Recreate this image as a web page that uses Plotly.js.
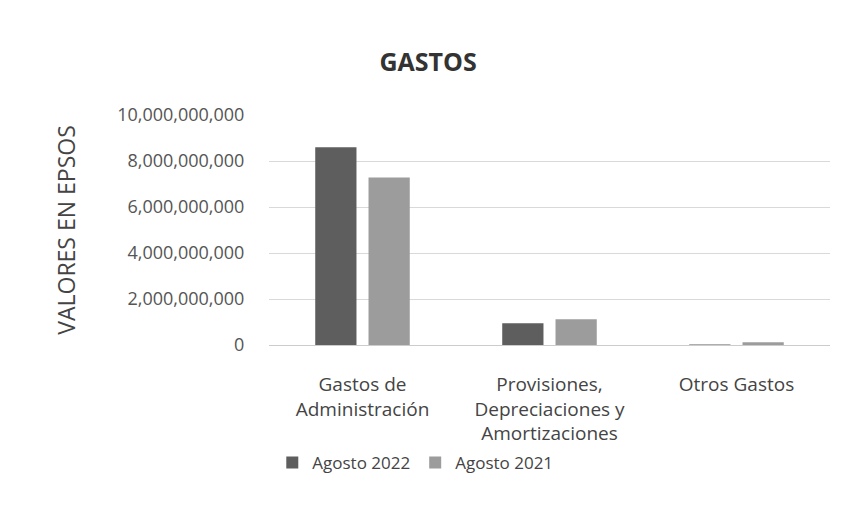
<!DOCTYPE html>
<html><head><meta charset="utf-8">
<script src="https://cdn.plot.ly/plotly-3.0.1.min.js"></script>
<style>html,body{margin:0;padding:0;background:#fff;}#chart{width:851px;height:529px;}</style>
</head><body><div id="chart"></div>
<script>
const categories = ["Gastos de<br>Administración", "Provisiones,<br>Depreciaciones y<br>Amortizaciones", "Otros Gastos"];
const agosto2022 = [8600000000, 950000000, 20000000];
const agosto2021 = [7280000000, 1120000000, 120000000];
const yTicks = [0, 2000000000, 4000000000, 6000000000, 8000000000, 10000000000];
const yTickText = ["0", "2,000,000,000", "4,000,000,000", "6,000,000,000", "8,000,000,000", "10,000,000,000"];

const font = "Open Sans, Liberation Sans, sans-serif";
const traces = [
  {type: "bar", name: "Agosto 2022", x: categories, y: agosto2022, marker: {color: "#5e5e5e"}},
  {type: "bar", name: "Agosto 2021", x: categories, y: agosto2021, marker: {color: "#9c9c9c"}}
];
const layout = {
  width: 851, height: 529,
  paper_bgcolor: "#fff", plot_bgcolor: "#fff",
  margin: {l: 269, r: 21, t: 115, b: 184},
  title: {text: "<b>GASTOS</b>", font: {family: font, size: 25, color: "#333"}, xref: "container", x: 0.503, xanchor: "center", y: 1 - 62/529, yanchor: "middle"},
  barmode: "group", bargap: 0.43, bargroupgap: 0.226,
  xaxis: {tickfont: {family: font, size: 19, color: "#444"}, showline: false,
          ticks: "outside", ticklen: 22, tickcolor: "rgba(0,0,0,0)", automargin: false},
  yaxis: {range: [0, 10000000000], tickvals: yTicks, ticktext: yTickText, tickfont: {family: font, size: 18, color: "#555"},
          gridcolor: "#d9d9d9", gridwidth: 1, zeroline: true, zerolinecolor: "#cccccc",
          ticks: "outside", ticklen: 20, tickcolor: "rgba(0,0,0,0)",
          title: {text: "VALORES EN EPSOS", font: {family: font, size: 23, color: "#444"}, standoff: 35}, automargin: false},
  legend: {orientation: "h", xref: "container", yref: "container", x: 0.488, xanchor: "center", y: 1 - 463/529, yanchor: "middle",
           font: {family: font, size: 17, color: "#444"}, itemwidth: 30},
  showlegend: true
};
Plotly.newPlot("chart", traces, layout, {displayModeBar: false, staticPlot: true});
</script></body></html>
